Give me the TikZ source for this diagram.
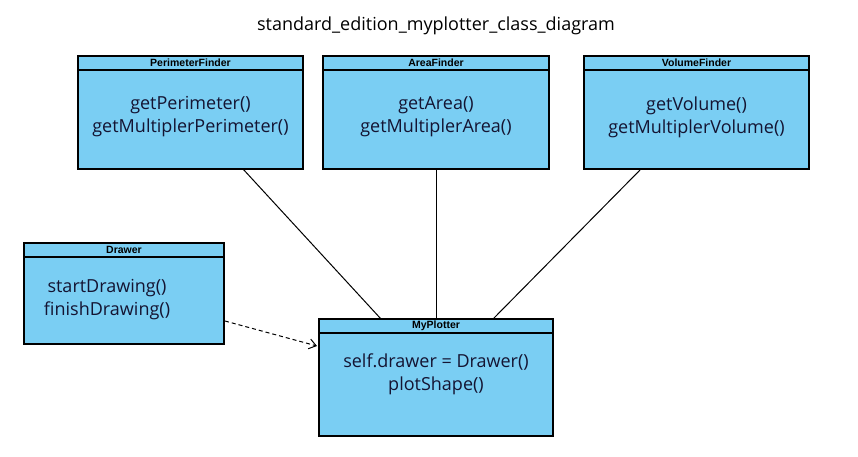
\documentclass[tikz,border=0pt]{standalone}
\usepackage{fontspec}
\setmainfont{Open Sans}
\newfontfamily\hdrfont{Liberation Sans}
\usetikzlibrary{arrows.meta}
\definecolor{boxfill}{RGB}{122,206,243}
\definecolor{bodytext}{RGB}{20,20,50}
\tikzset{
  classbox/.style={draw=black, line width=1.2pt, fill=boxfill},
  hdr/.style={font=\hdrfont\bfseries\fontsize{10.5}{11}\selectfont, inner sep=0pt},
  body/.style={font=\fontsize{18}{23}\selectfont, text=bodytext, align=center, inner sep=0pt},
  assoc/.style={draw=black, line width=1pt},
  dep/.style={draw=black, line width=1pt, dash pattern=on 4pt off 3pt, -{Straight Barb[length=7pt,width=10pt]}}
}
\begin{document}
\begin{tikzpicture}[x=1pt,y=-1pt]
\useasboundingbox (0,0) rectangle (858,456);
\node[font=\fontsize{18}{20}\selectfont, inner sep=0pt] (title) at (436,26) {standard\_edition\_myplotter\_class\_diagram};
% PerimeterFinder
\draw[classbox] (78,56) rectangle (303,169);
\draw[line width=1.2pt] (78,70) -- (303,70);
\coordinate (pf) at (243,169);
\node[hdr] (pfh) at (190.5,63) {PerimeterFinder};
\node[body] (pfb) at (190.5,117) {getPerimeter()\\getMultiplerPerimeter()};
% AreaFinder
\draw[classbox] (323,56) rectangle (549,169);
\draw[line width=1.2pt] (323,70) -- (549,70);
\coordinate (af) at (436,169);
\node[hdr] (afh) at (436,63) {AreaFinder};
\node[body] (afb) at (436,117) {getArea()\\getMultiplerArea()};
% VolumeFinder
\draw[classbox] (584,56) rectangle (809,169);
\draw[line width=1.2pt] (584,70) -- (809,70);
\coordinate (vf) at (641,169);
\node[hdr] (vfh) at (696.5,63) {VolumeFinder};
\node[body] (vfb) at (696.5,117) {getVolume()\\getMultiplerVolume()};
% Drawer
\draw[classbox] (24,243) rectangle (224,344);
\draw[line width=1.2pt] (24,257) -- (224,257);
\node[hdr] (drh) at (124,250) {Drawer};
\node[body] (drb) at (107,299.5) {startDrawing()\\finishDrawing()};
\coordinate (drout) at (225,321);
% MyPlotter
\draw[classbox] (319,319) rectangle (553,436);
\draw[line width=1.2pt] (319,333) -- (553,333);
\node[hdr] (mph) at (436,326) {MyPlotter};
\node[body] (mpb) at (436,374) {self.drawer = Drawer()\\plotShape()};
\coordinate (mp1) at (381,319);
\coordinate (mp2) at (436,319);
\coordinate (mp3) at (493,319);
\coordinate (mpin) at (317,346);
% connectors
\draw[assoc] (pf) -- (mp1);
\draw[assoc] (af) -- (mp2);
\draw[assoc] (vf) -- (mp3);
\draw[dep] (drout) -- (mpin);
\end{tikzpicture}
\end{document}
